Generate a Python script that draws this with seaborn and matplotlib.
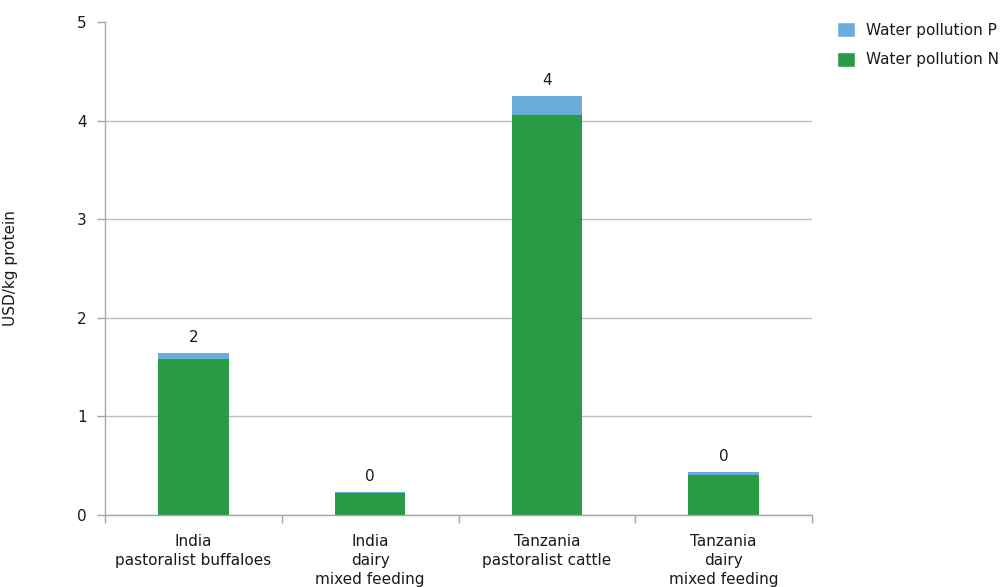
import matplotlib
matplotlib.use("Agg")
import matplotlib.pyplot as plt
import seaborn as sns
import pandas as pd
from matplotlib.patches import Patch

categories = ["India\npastoralist buffaloes", "India\ndairy\nmixed feeding",
              "Tanzania\npastoralist cattle", "Tanzania\ndairy\nmixed feeding"]
water_n = [1.58, 0.22, 4.06, 0.41]
water_p = [0.065, 0.012, 0.19, 0.025]

sns.set_theme(style="white")
plt.rcParams['font.family'] = ['DejaVu Sans']

totals = [n + p for n, p in zip(water_n, water_p)]
df = pd.DataFrame({"cat": categories, "N": water_n, "total": totals})

fig = plt.figure(figsize=(10.07, 5.87), dpi=100)
ax = fig.add_axes([105/1007, 1-515/587, (812-105)/1007, (515-22)/587])

blue = "#6aaddb"
green = "#2a9b45"
txt = "#1a1a1a"
fs = 11
sns.barplot(data=df, x="cat", y="total", color=blue, width=0.4, ax=ax, saturation=1, linewidth=0)
sns.barplot(data=df, x="cat", y="N", color=green, width=0.4, ax=ax, saturation=1, linewidth=0)

ax.set_ylim(0, 5)
ax.set_xlim(-0.5, 3.5)
ax.set_yticks(range(6))
ax.yaxis.grid(True, color="#bdbdbd", linewidth=1)
ax.yaxis.get_gridlines()[-1].set_visible(False)
ax.set_axisbelow(True)
for s in ["top", "right"]:
    ax.spines[s].set_visible(False)
for s in ["left", "bottom"]:
    ax.spines[s].set_color("#a6a6a6")
    ax.spines[s].set_linewidth(1)

ax.set_xticks([-0.5, 0.5, 1.5, 2.5, 3.5])
ax.set_xticklabels([])
ax.set_xticks(range(4), minor=True)
ax.set_xticklabels(categories, minor=True, fontsize=fs, color=txt, linespacing=1.3)
ax.tick_params(axis="x", which="major", length=6, width=1, color="#a6a6a6", direction="out", bottom=True)
ax.tick_params(axis="x", which="minor", length=0, pad=14)
ax.tick_params(axis="y", length=6, width=1, color="#a6a6a6", direction="out", left=True,
               labelsize=fs, labelcolor=txt, pad=7)
ax.set_xlabel("")
ax.set_ylabel("USD/kg protein", fontsize=fs, color=txt)
ax.yaxis.set_label_coords(-87/707, 0.5)

for i, t in enumerate(totals):
    ax.text(i, t + 0.08, f"{t:.0f}", ha="center", va="bottom", fontsize=fs, color=txt)

handles = [Patch(facecolor=blue, label="Water pollution P"),
           Patch(facecolor=green, label="Water pollution N")]
fig.legend(handles=handles, loc="upper left", bbox_to_anchor=(837/1007, 1-22/587),
           frameon=False, fontsize=fs, handlelength=1.15, handleheight=1.15,
           handletextpad=0.78, labelspacing=0.9, borderaxespad=0, borderpad=0,
           labelcolor=txt)

fig.savefig("out.png", dpi=100)
